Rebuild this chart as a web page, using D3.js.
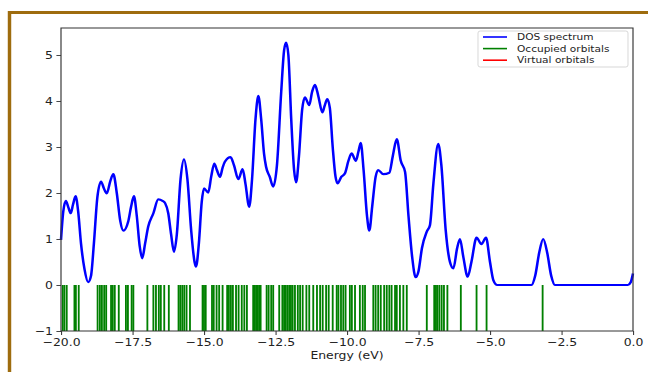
<!DOCTYPE html>
<html>
<head>
<meta charset="utf-8">
<script src="https://cdn.jsdelivr.net/npm/d3@7"></script>
<style>
    body { margin: 0; background: #fff; }
    text { font-family: "DejaVu Sans", sans-serif; fill: #222; }
</style>
</head>
<body>
<div id="graph1"></div>
<script>
// DOS curve (energy in eV, density)
const dosEnergy = [-20.0, -19.92, -19.83, -19.74, -19.66, -19.58, -19.49, -19.40, -19.30, -19.18, -19.05, -18.95,
    -18.85, -18.73, -18.60, -18.50, -18.40, -18.28, -18.17, -18.05, -17.93, -17.82, -17.65, -17.55, -17.45,
    -17.35, -17.25, -17.16, -17.06, -16.95, -16.77, -16.60, -16.45, -16.36, -16.25, -16.15, -16.05, -15.95,
    -15.82, -15.70, -15.58, -15.45, -15.33, -15.28, -15.18, -15.08, -15.00, -14.85, -14.75, -14.64, -14.55,
    -14.44, -14.35, -14.27, -14.07, -13.95, -13.80, -13.65, -13.55, -13.42, -13.32, -13.20, -13.10, -13.00,
    -12.90, -12.83, -12.70, -12.58, -12.45, -12.30, -12.20, -12.13, -12.05, -11.95, -11.85, -11.78, -11.68,
    -11.57, -11.47, -11.32, -11.22, -11.12, -11.00, -10.86, -10.78, -10.69, -10.60, -10.50, -10.40, -10.33,
    -10.20, -10.07, -9.95, -9.84, -9.69, -9.60, -9.52, -9.42, -9.30, -9.22, -9.12, -9.00, -8.91, -8.73,
    -8.52, -8.40, -8.26, -8.12, -7.97, -7.85, -7.72, -7.60, -7.50, -7.38, -7.21, -7.10, -6.98, -6.81, -6.70,
    -6.55, -6.40, -6.28, -6.15, -6.05, -5.93, -5.78, -5.65, -5.47, -5.30, -5.14, -5.00, -4.88, -4.75, -3.55,
    -3.42, -3.28, -3.14, -3.00, -2.86, -2.73, -0.18, -0.08, 0.0];
const dosValue = [0.98, 1.6, 1.83, 1.68, 1.56, 1.75, 1.93, 1.6, 0.9, 0.35, 0.06, 0.2,
    0.9, 1.9, 2.25, 2.1, 1.99, 2.25, 2.41, 2.0, 1.4, 1.18, 1.38, 1.7, 1.93,
    1.5, 0.85, 0.58, 0.9, 1.27, 1.56, 1.86, 1.83, 1.78, 1.56, 1.1, 0.72, 1.1,
    2.3, 2.73, 2.3, 1.2, 0.5, 0.40, 0.9, 1.8, 2.10, 2.01, 2.35, 2.64, 2.5,
    2.35, 2.55, 2.68, 2.78, 2.6, 2.30, 2.52, 2.2, 1.70, 2.3, 3.6, 4.11, 3.6,
    2.85, 2.57, 2.35, 2.14, 2.6, 4.2, 5.1, 5.27, 5.0, 3.6, 2.5, 2.23, 2.8,
    3.8, 4.08, 3.91, 4.2, 4.35, 4.1, 3.75, 3.9, 4.04, 3.85, 3.0, 2.35, 2.21,
    2.35, 2.43, 2.7, 2.86, 2.70, 2.9, 3.09, 2.5, 1.5, 1.18, 1.7, 2.35, 2.50, 2.41,
    2.44, 2.8, 3.17, 2.7, 2.46, 1.5, 0.6, 0.17, 0.3, 0.8, 1.16, 1.30, 2.2, 3.07, 2.6,
    1.2, 0.5, 0.36, 0.8, 1.00, 0.6, 0.18, 0.5, 1.03, 0.89, 1.03, 0.5, 0.1, 0.0, 0.0,
    0.2, 0.7, 1.00, 0.7, 0.2, 0.0, 0.0, 0.06, 0.25];

// Occupied orbital energies (eV), drawn as sticks from -1 to 0
const occupied = [-19.94, -19.88, -19.80, -19.53, -19.48, -19.38, -18.72, -18.64, -18.57, -18.49, -18.42,
    -18.25, -18.19, -18.12, -17.98, -17.73, -17.66, -17.53, -17.47, -16.98, -16.77, -16.68, -16.58, -16.51,
    -16.39, -16.23, -15.89, -15.83, -15.76, -15.69, -15.61, -15.49, -15.05, -15.00, -14.94, -14.72, -14.66,
    -14.56, -14.47, -14.35, -14.19, -14.13, -14.06, -13.99, -13.88, -13.79, -13.68, -13.59, -13.50, -13.28,
    -13.22, -13.17, -13.12, -13.07, -13.02, -12.81, -12.74, -12.65, -12.58, -12.37, -12.26, -12.20, -12.14,
    -12.08, -12.02, -11.96, -11.90, -11.82, -11.72, -11.64, -11.55, -11.42, -11.32, -11.18, -11.05, -10.94,
    -10.85, -10.73, -10.64, -10.50, -10.36, -10.30, -10.21, -10.13, -10.05, -9.90, -9.83, -9.72, -9.55,
    -9.45, -9.37, -9.08, -9.00, -8.91, -8.82, -8.70, -8.61, -8.52, -8.44, -8.32, -8.26, -8.15, -8.03, -7.91,
    -7.21, -6.95, -6.89, -6.84, -6.77, -6.69, -6.61, -6.49, -6.02, -5.47, -5.12, -3.16];

// Virtual orbitals: none fall inside the plotted window
const virtualOrb = [];

const xTicks = [-20, -17.5, -15, -12.5, -10, -7.5, -5, -2.5, 0];
const yTicks = [-1, 0, 1, 2, 3, 4, 5];
const legendLabels = ["DOS spectrum", "Occupied orbitals", "Virtual orbitals"];
const legendColors = ["#0000ff", "#008000", "#ff0000"];

// the reference picture is stretched sideways, so draw in a narrower box and stretch it
const sx = 1.15;
const W = 648 / sx, H = 372;
const plot = {left: 61 / sx, right: 633 / sx, top: 28, bottom: 331};

let svg = d3.select("#graph1")
    .append("svg")
    .attr("width", 648)
    .attr("height", 372)
    .attr("viewBox", `0 0 ${W} ${H}`)
    .attr("preserveAspectRatio", "none");

// brown frame round the figure
svg.append("rect")
    .attr("x", 9.5 / sx)
    .attr("y", 12.5)
    .attr("width", W)
    .attr("height", H)
    .attr("fill", "none")
    .attr("stroke", "#9e6c0e")
    .attr("stroke-width", 3);

let x = d3.scaleLinear()
    .domain([-20, 0])
    .range([plot.left, plot.right]);

let y = d3.scaleLinear()
    .domain([-1, 5.587])
    .range([plot.bottom, plot.top]);

// occupied sticks
svg.append("g")
    .selectAll("line")
    .data(occupied)
    .enter()
    .append("line")
    .attr("x1", d => x(d))
    .attr("x2", d => x(d))
    .attr("y1", y(-1))
    .attr("y2", y(0))
    .attr("stroke", legendColors[1])
    .attr("stroke-width", 1.6);

svg.append("g")
    .selectAll("line")
    .data(virtualOrb)
    .enter()
    .append("line")
    .attr("x1", d => x(d))
    .attr("x2", d => x(d))
    .attr("y1", y(-1))
    .attr("y2", y(0))
    .attr("stroke", legendColors[2])
    .attr("stroke-width", 1.6);

// DOS line
let dos = dosEnergy.map((e, i) => [e, dosValue[i]]);
let line = d3.line()
    .x(d => x(d[0]))
    .y(d => y(d[1]))
    .curve(d3.curveMonotoneX);

svg.append("path")
    .datum(dos)
    .attr("d", line)
    .attr("fill", "none")
    .attr("stroke", legendColors[0])
    .attr("stroke-width", 2.2)
    .attr("stroke-linejoin", "round");

// axes
let xAxis = svg.append("g")
    .attr("transform", `translate(0, ${plot.bottom})`)
    .call(d3.axisBottom(x).tickValues(xTicks).tickFormat(d3.format(".1f")).tickSize(4).tickPadding(3));

let yAxis = svg.append("g")
    .attr("transform", `translate(${plot.left}, 0)`)
    .call(d3.axisLeft(y).tickValues(yTicks).tickFormat(d3.format("d")).tickSize(4).tickPadding(3));

[xAxis, yAxis].forEach(a => {
    a.select(".domain").remove();
    a.selectAll("line").attr("stroke", "#333").attr("stroke-width", 0.9);
    a.selectAll("text")
        .style("font-size", "10.8px")
        .style("font-family", "DejaVu Sans, sans-serif")
        .attr("fill", "#222");
});

// frame of the plot area
svg.append("rect")
    .attr("x", plot.left)
    .attr("y", plot.top)
    .attr("width", plot.right - plot.left)
    .attr("height", plot.bottom - plot.top)
    .attr("fill", "none")
    .attr("stroke", "#333")
    .attr("stroke-width", 1);

// x-axis label
svg.append("text")
    .attr("x", (plot.left + plot.right) / 2)
    .attr("y", 359)
    .style("text-anchor", "middle")
    .style("font-size", "10.8px")
    .text("Energy (eV)");

// legend
let legend = svg.append("g");
legend.append("rect")
    .attr("x", 478 / sx)
    .attr("y", 31)
    .attr("width", (628 - 478) / sx)
    .attr("height", 36)
    .attr("rx", 2)
    .attr("fill", "#fff")
    .attr("fill-opacity", 0.8)
    .attr("stroke", "#d0d0d0")
    .attr("stroke-width", 0.8);

legendLabels.forEach((lab, i) => {
    let ly = 37 + i * 11.6;
    legend.append("line")
        .attr("x1", 483 / sx)
        .attr("x2", 507 / sx)
        .attr("y1", ly)
        .attr("y2", ly)
        .attr("stroke", legendColors[i])
        .attr("stroke-width", 1.6);
    legend.append("text")
        .attr("x", 517 / sx)
        .attr("y", ly + 3.3)
        .style("font-size", "9.2px")
        .text(lab);
});
</script>
</body>
</html>
